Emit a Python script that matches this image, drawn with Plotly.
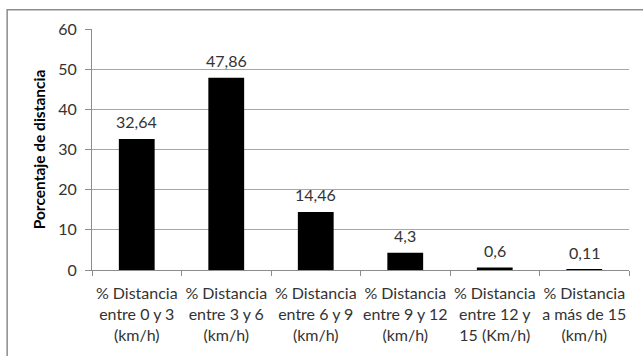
import plotly.graph_objects as go

# Speed bands and share of total distance covered in each (%)
categories = [
    "% Distancia<br>entre 0 y 3<br>(km/h)",
    "% Distancia<br>entre 3 y 6<br>(km/h)",
    "% Distancia<br>entre 6 y 9<br>(km/h)",
    "% Distancia<br>entre 9 y 12<br>(km/h)",
    "% Distancia<br>entre 12 y<br>15 (Km/h)",
    "% Distancia<br>a más de 15<br>(km/h)",
]
percentages = [32.64, 47.86, 14.46, 4.3, 0.6, 0.11]
y_ticks = [0, 10, 20, 30, 40, 50, 60]

FONT = "Lato, Carlito, Calibri, 'Open Sans', sans-serif"
TEXT_COLOR = "#333333"

def fmt(v):
    return f"{v:g}".replace(".", ",")

fig = go.Figure(
    go.Bar(
        x=categories,
        y=percentages,
        marker=dict(color="#000000", line=dict(width=0)),
        hoverinfo="skip",
    )
)

# Value labels above each bar
for cat, v in zip(categories, percentages):
    fig.add_annotation(
        x=cat, y=v, text=fmt(v), showarrow=False,
        yanchor="bottom", yshift=6,
        font=dict(family=FONT, size=16, color=TEXT_COLOR),
    )

# Outer chart frame (right and bottom edges run past the canvas)
fig.add_shape(
    type="rect", xref="paper", yref="paper",
    x0=-0.158, x1=1.15, y0=-0.5, y1=1.08,
    line=dict(color="#8c8c8c", width=1.5), fillcolor="rgba(0,0,0,0)",
    layer="below",
)

fig.update_layout(
    width=643, height=356,
    margin=dict(l=92, r=14, t=29, b=86, autoexpand=False),
    paper_bgcolor="white", plot_bgcolor="white",
    bargap=0.6,
    showlegend=False,
    font=dict(family=FONT, size=16, color=TEXT_COLOR),
    xaxis=dict(
        showline=True, linecolor="#8c8c8c", linewidth=1,
        ticks="outside", ticklen=5, tickcolor="#8c8c8c",
        tickson="boundaries", showgrid=False,
        tickangle=0, automargin=False, ticklabelstandoff=9,
        tickfont=dict(family=FONT, size=16, color=TEXT_COLOR),
        fixedrange=True,
    ),
    yaxis=dict(
        range=[0, 60], tickvals=y_ticks,
        showgrid=True, gridcolor="#a6a6a6", gridwidth=1,
        showline=True, linecolor="#8c8c8c", linewidth=1,
        ticks="outside", ticklen=6, tickcolor="#8c8c8c",
        ticklabelstandoff=5, automargin=False,
        zeroline=False,
        tickfont=dict(family=FONT, size=16, color=TEXT_COLOR),
        title=dict(
            text="<b>Porcentaje de distancia</b>",
            font=dict(family=FONT, size=15.5, color="#000000"),
            standoff=8,
        ),
        fixedrange=True,
    ),
)

fig.write_html("out.html")
